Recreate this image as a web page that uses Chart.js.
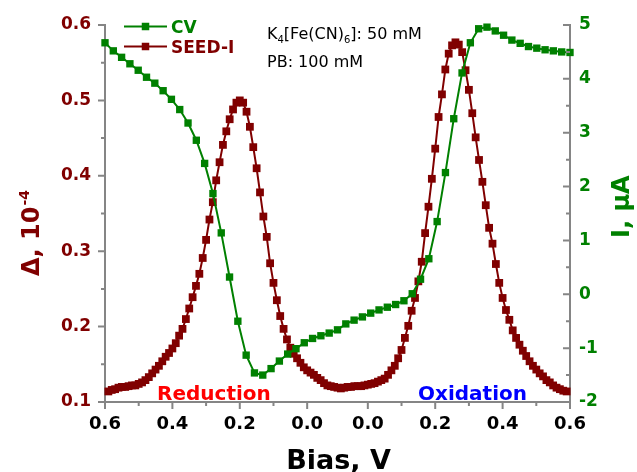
<!DOCTYPE html>
<html>
<head>
<meta charset="utf-8">
<script src="https://cdn.jsdelivr.net/npm/chart.js@4/dist/chart.umd.min.js"></script>
<style>
  html, body { margin: 0; padding: 0; background: #fff; }
  #wrap { width: 637px; height: 472px; }
</style>
</head>
<body>
<div id="wrap"><canvas id="chart" width="637" height="472"></canvas></div>
<script>
// Cyclic potential sweep: 0.6 V down to the vertex, then back up to 0.6 V.
const SWEEP_START = 0.6;
const SWEEP_TURN = -0.09;
const LEG = SWEEP_START - SWEEP_TURN;

// Bias tick labels along the sweep (forward leg, then reverse leg)
const biasMajorFwd = [0.6, 0.4, 0.2, 0.0];
const biasMajorRev = [0.0, 0.2, 0.4, 0.6];
const biasMinorFwd = [0.5, 0.3, 0.1];
const biasMinorRev = [0.1, 0.3, 0.5];

// Cyclic voltammogram, current in µA (28 steps per leg)
const cvStepsPerLeg = 28;
const cvForward = [4.67, 4.52, 4.40, 4.28, 4.16, 4.03, 3.92, 3.78, 3.62, 3.43,
  3.18, 2.86, 2.43, 1.87, 1.14, 0.32, -0.50, -1.13, -1.46, -1.50,
  -1.38, -1.24, -1.11, -1.01, -0.90, -0.82, -0.77, -0.72, -0.66];
const cvReverse = [-0.55, -0.48, -0.42, -0.35, -0.29, -0.24, -0.19, -0.12, 0.01, 0.28,
  0.66, 1.35, 2.26, 3.26, 4.11, 4.67, 4.93, 4.96, 4.89, 4.81,
  4.72, 4.66, 4.60, 4.57, 4.54, 4.52, 4.50, 4.49];

// SEED-I signal Δ (×10⁻⁴), sampled every 10 mV
const seedStep = 0.01;
const seedFwdStart = 0.59;   // forward leg: 0.59 V → vertex
const seedForward = [0.114, 0.116, 0.117, 0.119, 0.120, 0.120, 0.121, 0.122, 0.122, 0.124,
  0.126, 0.129, 0.133, 0.138, 0.143, 0.148, 0.154, 0.160, 0.165, 0.171,
  0.178, 0.188, 0.197, 0.210, 0.224, 0.239, 0.254, 0.270, 0.291, 0.315,
  0.342, 0.365, 0.394, 0.418, 0.441, 0.459, 0.475, 0.488, 0.497, 0.500,
  0.497, 0.485, 0.465, 0.438, 0.410, 0.378, 0.346, 0.319, 0.284, 0.258,
  0.235, 0.214, 0.197, 0.183, 0.172, 0.164, 0.158, 0.152, 0.146, 0.142,
  0.139, 0.136, 0.132, 0.129, 0.125, 0.122, 0.121, 0.120, 0.119];
const seedRevStart = -0.08;  // reverse leg: -0.08 V → 0.59 V
const seedReverse = [0.118, 0.119, 0.120, 0.120, 0.121, 0.121, 0.121, 0.122, 0.123, 0.124,
  0.125, 0.127, 0.129, 0.131, 0.136, 0.142, 0.148, 0.158, 0.169, 0.185,
  0.201, 0.221, 0.238, 0.260, 0.286, 0.324, 0.359, 0.396, 0.436, 0.478,
  0.508, 0.541, 0.562, 0.573, 0.577, 0.574, 0.564, 0.540, 0.514, 0.483,
  0.451, 0.421, 0.392, 0.361, 0.331, 0.310, 0.283, 0.258, 0.238, 0.222,
  0.209, 0.195, 0.185, 0.176, 0.168, 0.161, 0.154, 0.148, 0.143, 0.138,
  0.134, 0.129, 0.126, 0.122, 0.119, 0.117, 0.115, 0.114];

const MAROON = '#800000';
const GREEN = '#008000';
const AXIS_GRAY = '#858585';
const FONT = '"DejaVu Sans", "Liberation Sans", sans-serif';

// distance travelled along the sweep for a bias on the forward (0) or reverse (1) leg
function sweepPos(bias, leg) {
  return leg === 0 ? SWEEP_START - bias : LEG + (bias - SWEEP_TURN);
}

const cvStep = LEG / cvStepsPerLeg;
const cvPoints = [];
cvForward.forEach((v, k) => cvPoints.push({ x: sweepPos(SWEEP_START - k * cvStep, 0), y: v }));
cvReverse.forEach((v, k) => cvPoints.push({ x: sweepPos(SWEEP_TURN + (k + 1) * cvStep, 1), y: v }));

const seedPoints = [];
seedForward.forEach((v, i) => seedPoints.push({ x: sweepPos(seedFwdStart - i * seedStep, 0), y: v }));
seedReverse.forEach((v, j) => seedPoints.push({ x: sweepPos(seedRevStart + j * seedStep, 1), y: v }));

const majorPos = biasMajorFwd.map(b => sweepPos(b, 0)).concat(biasMajorRev.map(b => sweepPos(b, 1)));
const majorLabels = biasMajorFwd.concat(biasMajorRev).map(b => b.toFixed(1));
const minorPos = biasMinorFwd.map(b => sweepPos(b, 0)).concat(biasMinorRev.map(b => sweepPos(b, 1)));

// tick marks, axis titles, legend and notes
const decor = {
  id: 'decor',
  afterDraw(chart) {
    const { ctx } = chart;
    const { x, yL, yR } = chart.scales;
    const area = chart.chartArea;
    ctx.save();
    ctx.strokeStyle = AXIS_GRAY;
    ctx.lineWidth = 2;
    ctx.beginPath();
    majorPos.forEach(u => { const px = x.getPixelForValue(u); ctx.moveTo(px, area.bottom); ctx.lineTo(px, area.bottom + 7); });
    minorPos.forEach(u => { const px = x.getPixelForValue(u); ctx.moveTo(px, area.bottom); ctx.lineTo(px, area.bottom + 4); });
    for (let v = 0.1; v <= 0.6001; v += 0.05) {
      const py = yL.getPixelForValue(v);
      const major = Math.abs(Math.round(v * 10) - v * 10) < 1e-6;
      ctx.moveTo(area.left, py); ctx.lineTo(area.left - (major ? 7 : 4), py);
    }
    for (let v = -2; v <= 5.0001; v += 0.5) {
      const py = yR.getPixelForValue(v);
      const major = Number.isInteger(v);
      ctx.moveTo(area.right, py); ctx.lineTo(area.right - (major ? 7 : 4), py);
    }
    ctx.stroke();

    // axis titles
    ctx.textBaseline = 'alphabetic';
    ctx.fillStyle = '#000';
    ctx.font = 'bold 27px ' + FONT;
    ctx.textAlign = 'center';
    ctx.fillText('Bias, V', (area.left + area.right) / 2 + 1, 469);

    ctx.save();
    ctx.translate(39, 276);
    ctx.rotate(-Math.PI / 2);
    ctx.textAlign = 'left';
    ctx.fillStyle = MAROON;
    ctx.font = 'bold 24px ' + FONT;
    const main = 'Δ, 10';
    ctx.fillText(main, 0, 0);
    const w = ctx.measureText(main).width;
    ctx.font = 'bold 14px ' + FONT;
    ctx.fillText('-4', w + 1, -10);
    ctx.restore();

    ctx.save();
    ctx.translate(629, 238);
    ctx.rotate(-Math.PI / 2);
    ctx.textAlign = 'left';
    ctx.fillStyle = GREEN;
    ctx.font = 'bold 24px ' + FONT;
    ctx.fillText('I, μA', 0, 0);
    ctx.restore();

    // legend
    const items = [
      { label: 'CV', color: GREEN, y: 26.5 },
      { label: 'SEED-I', color: MAROON, y: 46.5 }
    ];
    ctx.textAlign = 'left';
    ctx.font = 'bold 17px ' + FONT;
    items.forEach(it => {
      ctx.strokeStyle = it.color;
      ctx.fillStyle = it.color;
      ctx.lineWidth = 2;
      ctx.beginPath();
      ctx.moveTo(124, it.y); ctx.lineTo(167, it.y);
      ctx.stroke();
      ctx.fillRect(145.5 - 3.75, it.y - 3.75, 7.5, 7.5);
      ctx.fillText(it.label, 171, it.y + 6.5);
    });

    // composition notes
    ctx.fillStyle = '#000';
    let tx = 267;
    const run = (s, size, dy) => {
      ctx.font = size + 'px ' + FONT;
      ctx.fillText(s, tx, 38.5 + dy);
      tx += ctx.measureText(s).width;
    };
    run('K', 16, 0); run('4', 10, 4); run('[Fe(CN)', 16, 0); run('6', 10, 4); run(']: 50 mM', 16, 0);
    ctx.font = '16px ' + FONT;
    ctx.fillText('PB: 100 mM', 267, 66.5);

    ctx.font = 'bold 20px ' + FONT;
    ctx.fillStyle = '#ff0000';
    ctx.fillText('Reduction', 157, 400);
    ctx.fillStyle = '#0000ff';
    ctx.fillText('Oxidation', 418, 400);
    ctx.restore();
  }
};

new Chart(document.getElementById('chart'), {
  type: 'line',
  data: {
    datasets: [
      {
        label: 'CV', data: cvPoints, yAxisID: 'yR',
        borderColor: GREEN, backgroundColor: GREEN, borderWidth: 2,
        pointStyle: 'rect', pointRadius: 5.2, pointBorderWidth: 0,
        pointBackgroundColor: GREEN, tension: 0, clip: false
      },
      {
        label: 'SEED-I', data: seedPoints, yAxisID: 'yL',
        borderColor: MAROON, backgroundColor: MAROON, borderWidth: 2,
        pointStyle: 'rect', pointRadius: 5.5, pointBorderWidth: 0,
        pointBackgroundColor: MAROON, tension: 0, clip: false
      }
    ]
  },
  options: {
    responsive: false,
    animation: false,
    devicePixelRatio: 1,
    layout: { padding: { top: 25, left: 0, right: 0, bottom: 0 } },
    plugins: { legend: { display: false }, tooltip: { enabled: false } },
    scales: {
      x: {
        type: 'linear', position: 'bottom', min: 0, max: 2 * LEG,
        afterBuildTicks: s => { s.ticks = majorPos.map(v => ({ value: v })); },
        afterFit: s => { s.height = 70; },
        ticks: {
          callback: (v, i) => majorLabels[i], autoSkip: false, maxRotation: 0,
          color: '#000', padding: 12, font: { family: FONT, size: 18, weight: 'bold' }
        },
        grid: { display: false, drawTicks: false },
        border: { display: true, color: AXIS_GRAY, width: 2 }
      },
      yL: {
        type: 'linear', position: 'left', min: 0.1, max: 0.6,
        afterFit: s => { s.width = 105; },
        ticks: {
          stepSize: 0.1, callback: v => v.toFixed(1),
          color: MAROON, padding: 14, font: { family: FONT, size: 17, weight: 'bold' }
        },
        grid: { display: false, drawTicks: false },
        border: { display: true, color: AXIS_GRAY, width: 2 }
      },
      yR: {
        type: 'linear', position: 'right', min: -2, max: 5,
        afterFit: s => { s.width = 67; },
        ticks: {
          stepSize: 1, callback: v => String(v),
          color: GREEN, padding: 9, font: { family: FONT, size: 17, weight: 'bold' }
        },
        grid: { display: false, drawTicks: false },
        border: { display: true, color: AXIS_GRAY, width: 2 }
      }
    }
  },
  plugins: [decor]
});
</script>
</body>
</html>
